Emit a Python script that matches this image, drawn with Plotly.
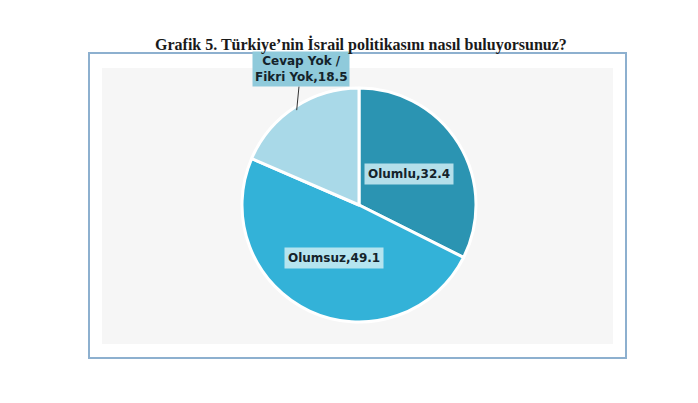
import math
import plotly.graph_objects as go

# data
labels = ["Olumlu", "Olumsuz", "Cevap Yok /<br>Fikri Yok"]
values = [32.4, 49.1, 18.5]
colors = ["#2b94b2", "#33b2d8", "#a9d9e8"]
box_colors = ["rgba(205,236,243,0.85)", "rgba(205,236,243,0.85)", "#8fcadb"]

W, H = 698, 403
OFF = 8  # page body margin
cx, cy, r = 359, 205, 117  # pie centre / radius in px


def px(x):
    return (x - OFF) / W


def py(y):
    return 1 - (y - OFF) / H


fig = go.Figure()

fig.add_trace(go.Pie(
    labels=labels,
    values=values,
    sort=False,
    direction="clockwise",
    rotation=0,
    marker=dict(colors=colors, line=dict(color="white", width=3)),
    textinfo="none",
    hoverinfo="label+value",
    domain=dict(x=[px(cx - r), px(cx + r)], y=[py(cy + r), py(cy - r)]),
    showlegend=False,
))

# labels with boxes, placed along each slice's mid angle
total = sum(values)
start = 0
for i, (lab, v) in enumerate(zip(labels, values)):
    mid = (start + v / 2) / total * 2 * math.pi
    start += v
    txt = f"<b>{lab},{v}</b>"
    if i < 2:
        d = 0.5 * r
        fig.add_annotation(
            x=px(cx + d * math.sin(mid)), y=py(cy - d * math.cos(mid)),
            xref="paper", yref="paper", text=txt, showarrow=False,
            xanchor="center", yanchor="middle",
            font=dict(family="DejaVu Sans", size=12, color="#14232b"),
            bgcolor=box_colors[i], borderpad=3,
        )
    else:
        ex, ey = cx + r * 0.97 * math.sin(mid), cy - r * 0.97 * math.cos(mid)
        fig.add_annotation(
            x=px(ex), y=py(ey), xref="paper", yref="paper",
            text=txt, showarrow=True, arrowhead=0, arrowwidth=1,
            arrowcolor="#333333", ax=4, ay=-41, standoff=0,
            font=dict(family="DejaVu Sans", size=12, color="#14232b"),
            bgcolor=box_colors[i], borderpad=2, align="center",
        )

# frame
fig.add_shape(type="rect", xref="paper", yref="paper",
              x0=px(89), x1=px(626), y0=py(358), y1=py(53),
              line=dict(color="#8db0cf", width=2), fillcolor="white", layer="below")
fig.add_shape(type="rect", xref="paper", yref="paper",
              x0=px(102), x1=px(613), y0=py(344), y1=py(68),
              line=dict(width=0), fillcolor="#f6f6f6", layer="below")

fig.add_annotation(
    x=px(361), y=py(45), xref="paper", yref="paper", showarrow=False,
    xanchor="center", yanchor="middle",
    text="<b>Grafik 5. Türkiye’nin İsrail politikasını nasıl buluyorsunuz?</b>",
    font=dict(family="Liberation Serif", size=16, color="#1a1a1a"),
)

fig.update_layout(
    width=W, height=H,
    margin=dict(l=0, r=0, t=0, b=0),
    paper_bgcolor="white",
    plot_bgcolor="white",
)

fig.write_html("out.html")
